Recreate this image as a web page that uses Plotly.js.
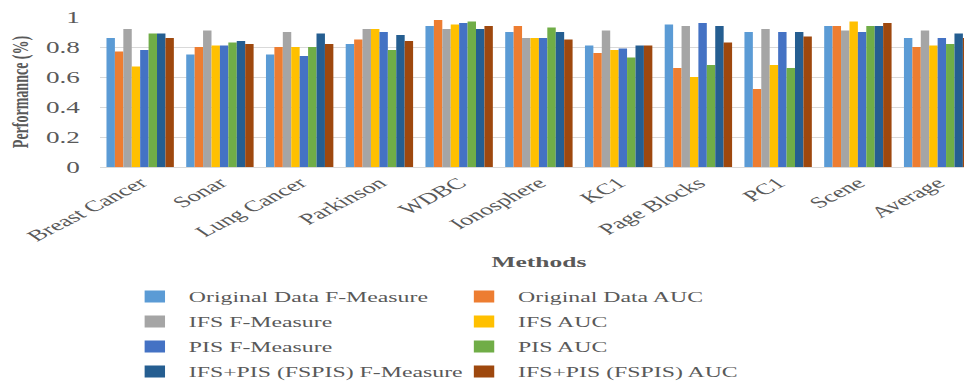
<!DOCTYPE html>
<html>
<head>
<meta charset="utf-8">
<script src="https://cdn.plot.ly/plotly-3.0.1.min.js"></script>
<style>
  html, body { margin: 0; padding: 0; background: #ffffff; overflow: hidden; width: 964px; height: 381px; }
  /* the chart is laid out narrow and widened horizontally, giving the wide serif lettering */
  #chart { width: 584px; height: 381px; transform: scaleX(1.7); transform-origin: 0 0; }
</style>
</head>
<body>
<div id="chart"></div>
<script>
// Datasets along the x axis
const categories = ['Breast Cancer', 'Sonar', 'Lung Cancer', 'Parkinson', 'WDBC', 'Ionosphere',
                    'KC1', 'Page Blocks', 'PC1', 'Scene', 'Average'];

// Performance per dataset
const origF    = [0.86, 0.75, 0.75, 0.82, 0.94, 0.90, 0.81, 0.95, 0.90, 0.94, 0.86];
const origAUC  = [0.77, 0.80, 0.80, 0.85, 0.98, 0.94, 0.76, 0.66, 0.52, 0.94, 0.80];
const ifsF     = [0.92, 0.91, 0.90, 0.92, 0.92, 0.86, 0.91, 0.94, 0.92, 0.91, 0.91];
const ifsAUC   = [0.67, 0.81, 0.80, 0.92, 0.95, 0.86, 0.78, 0.60, 0.68, 0.97, 0.81];
const pisF     = [0.78, 0.81, 0.74, 0.90, 0.96, 0.86, 0.79, 0.96, 0.90, 0.90, 0.86];
const pisAUC   = [0.89, 0.83, 0.80, 0.78, 0.97, 0.93, 0.73, 0.68, 0.66, 0.94, 0.82];
const fspisF   = [0.89, 0.84, 0.89, 0.88, 0.92, 0.90, 0.81, 0.94, 0.90, 0.94, 0.89];
const fspisAUC = [0.86, 0.82, 0.82, 0.84, 0.94, 0.85, 0.81, 0.83, 0.87, 0.96, 0.86];

const seriesNames = ['Original Data F-Measure', 'Original Data AUC', 'IFS F-Measure', 'IFS AUC',
                     'PIS F-Measure', 'PIS AUC', 'IFS+PIS (FSPIS) F-Measure', 'IFS+PIS (FSPIS) AUC'];
const seriesValues = [origF, origAUC, ifsF, ifsAUC, pisF, pisAUC, fspisF, fspisAUC];

const yTicks = [0, 0.2, 0.4, 0.6, 0.8, 1];
const yTickText = ['0', '0.2', '0.4', '0.6', '0.8', '1'];

// Styling
const colors = ['#5B9BD5', '#ED7D31', '#A5A5A5', '#FFC000', '#4472C4', '#70AD47', '#255E91', '#9E480E'];
const FONT = '"Liberation Serif", "Times New Roman", serif';
const TEXT_GREY = '#595959';
const GRID = '#D9D9D9';

// F-Measure series go in the left legend column, AUC series in the right one
const traces = seriesValues.map((vals, i) => ({
  type: 'bar',
  name: seriesNames[i],
  x: categories,
  y: vals,
  marker: { color: colors[i], line: { width: 0 } },
  legend: i % 2 === 0 ? 'legend' : 'legend2',
  legendgroup: 'g' + i,
  hoverinfo: 'skip'
}));

const legendBase = {
  orientation: 'v',
  yanchor: 'top',
  xanchor: 'left',
  y: -0.76,
  bgcolor: 'rgba(0,0,0,0)',
  borderwidth: 0,
  tracegroupgap: 3.8,
  itemclick: false,
  font: { family: FONT, size: 14, color: TEXT_GREY }
};

const layout = {
  width: 584,
  height: 381,
  margin: { l: 59, r: 9, t: 17, b: 214, pad: 0, autoexpand: false },
  paper_bgcolor: '#ffffff',
  plot_bgcolor: '#ffffff',
  font: { family: FONT, color: TEXT_GREY },
  barmode: 'group',
  bargap: 0.155,
  bargroupgap: 0,
  showlegend: true,
  legend: Object.assign({}, legendBase, { x: 0.0234 }),
  legend2: Object.assign({}, legendBase, { x: 0.3987 }),
  xaxis: {
    type: 'category',
    automargin: false,
    tickangle: -41,
    tickfont: { family: FONT, size: 15.5, color: TEXT_GREY },
    showline: true,
    linecolor: GRID,
    linewidth: 1,
    ticks: '',
    showgrid: false,
    title: {
      text: '<b>Methods</b>',
      font: { family: FONT, size: 15, color: TEXT_GREY },
      standoff: 13
    }
  },
  yaxis: {
    range: [0, 1],
    automargin: false,
    tickvals: yTicks,
    ticktext: yTickText,
    tickfont: { family: FONT, size: 16, color: TEXT_GREY },
    ticks: '',
    ticklabelstandoff: 11,
    showgrid: true,
    gridcolor: GRID,
    gridwidth: 1,
    zeroline: false,
    showline: false,
    title: {
      text: '<b>Performannce (%)</b>',
      font: { family: FONT, size: 14, color: TEXT_GREY },
      standoff: 6
    }
  }
};

Plotly.newPlot('chart', traces, layout, { displayModeBar: false, staticPlot: true });
</script>
</body>
</html>
